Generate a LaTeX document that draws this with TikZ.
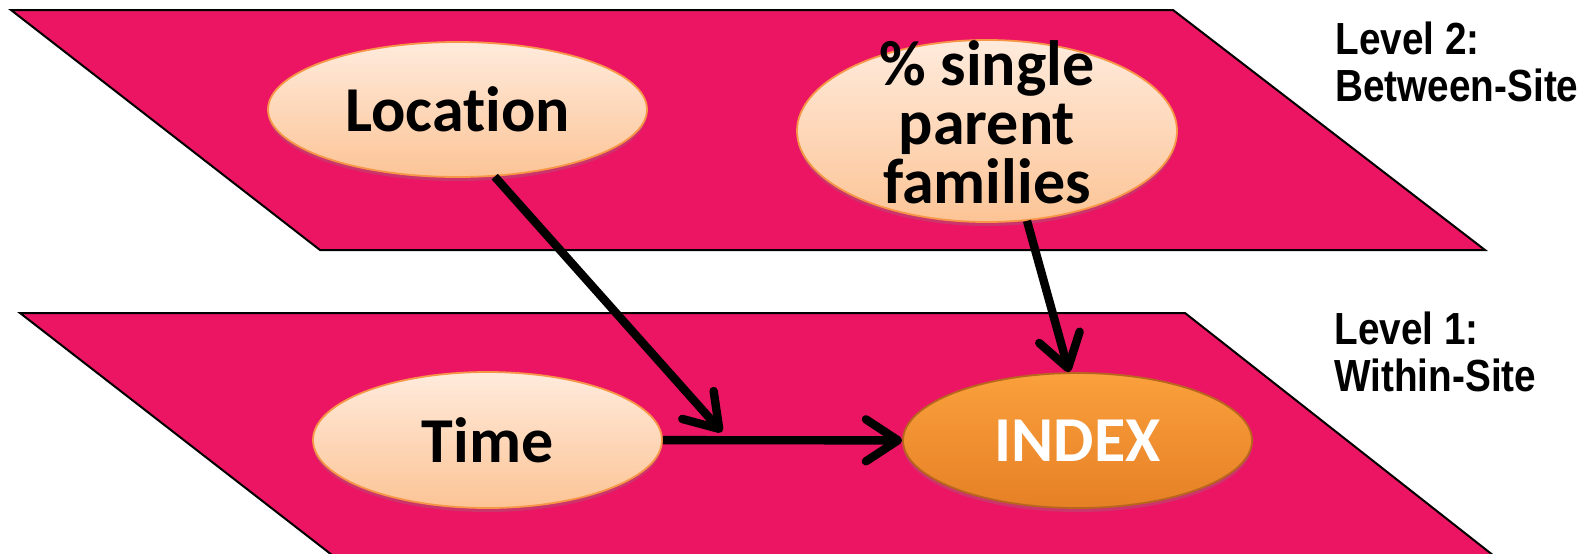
\documentclass[tikz,border=0pt]{standalone}
\usepackage{fontspec}
\setmainfont[RawFeature={-liga;-calt}]{Carlito}
\newfontfamily\levelfont[FakeStretch=0.86]{Liberation Sans}
\usetikzlibrary{shapes.geometric,arrows.meta,shadows}
\definecolor{plane}{RGB}{236,21,99}
\definecolor{peachtop}{RGB}{255,235,220}
\definecolor{peachbot}{RGB}{252,196,150}
\definecolor{peachline}{RGB}{247,150,70}
\definecolor{indextop}{RGB}{250,160,60}
\definecolor{indexbot}{RGB}{230,128,38}

\begin{document}
\begin{tikzpicture}[x=0.5pt,y=-0.5pt,
  level/.style={fill=plane,draw=black,line width=1pt},
  var/.style={ellipse,draw=peachline,line width=0.9pt,top color=peachtop,bottom color=peachbot,inner sep=0pt,
    font=\bfseries\fontsize{32}{29.5}\selectfont,drop shadow={opacity=0.3,shadow xshift=0pt,shadow yshift=-2pt}},
  outcome/.style={var,draw=indexbot!80!black,top color=indextop,bottom color=indexbot,text=white},
  effect/.style={line width=4.2pt,-{Straight Barb[length=16pt,width=21pt,round]}},
  tag/.style={align=left,anchor=north west,inner sep=0pt,font=\levelfont\bfseries\fontsize{22.5}{23.5}\selectfont}]
\useasboundingbox (0,0) rectangle (1593,553);
\clip (0,0) rectangle (1593,553);
\draw[level] (20,313) -- (1185,313) -- (1550,600) -- (390,600) -- cycle;
\draw[level] (11,10) -- (1173,10) -- (1485,250) -- (320,250) -- cycle;

\node[var,minimum width=189.5pt,minimum height=67.5pt] (loc) at (457.5,109.5) {Location};
\node[var,minimum width=190pt,minimum height=91pt] (fam) at (987,131) {};
\node[align=center,inner sep=0pt,font=\bfseries\fontsize{32}{29.5}\selectfont] (famtext) at (987,122) {\% single\\parent\\families};
\node[var,minimum width=174.5pt,minimum height=68pt] (time) at (487.5,440) {Time};
\node[outcome,minimum width=174.5pt,minimum height=67.5pt] (index) at (1077.5,440.5) {INDEX};
\coordinate (cross) at (722,432);

\draw[effect] (loc.-61) -- (cross);
\draw[effect] (time) -- (index);
\draw[effect] (fam.-66) -- (index.97);

\node[tag] (lvtwo) at (1335,21) {Level 2:\\Between-Site};
\node[tag] (lvone) at (1334,311) {Level 1:\\Within-Site};
\end{tikzpicture}
\end{document}
